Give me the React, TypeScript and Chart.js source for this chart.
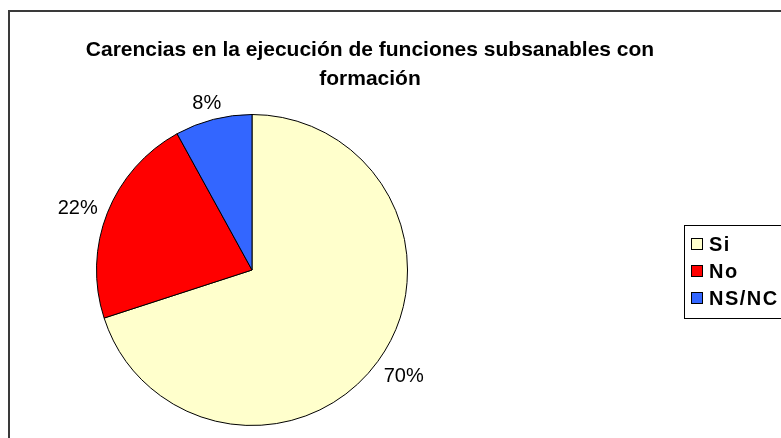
import React, { useEffect, useRef } from "react";
import { Chart, registerables } from "chart.js";

Chart.register(...registerables);

const categories = ["Si", "No", "NS/NC"];
const values = [70, 22, 8];
const colors = ["#FFFFCC", "#FF0000", "#3366FF"];
const titleLines = ["Carencias en la ejecución de funciones subsanables con", "formación"];

const decor = {
  id: "decor",
  afterDraw(chart: any) {
    const ctx = chart.ctx;
    ctx.save();
    // outer frame
    ctx.strokeStyle = "#3a3a3a";
    ctx.lineWidth = 2;
    ctx.strokeRect(9, 11, 900, 600);
    // title
    ctx.fillStyle = "#000";
    ctx.font = "bold 21px 'Liberation Sans', Arial, sans-serif";
    ctx.textAlign = "center";
    ctx.textBaseline = "middle";
    ctx.fillText(titleLines[0], 370, 50);
    ctx.fillText(titleLines[1], 370, 79);
    // labels
    const meta = chart.getDatasetMeta(0);
    const total = values.reduce((a, b) => a + b, 0);
    ctx.font = "20px 'Liberation Sans', Arial, sans-serif";
    meta.data.forEach((arc: any, i: number) => {
      const p = arc.getProps(["x", "y", "startAngle", "endAngle", "outerRadius"], true);
      const mid = (p.startAngle + p.endAngle) / 2;
      const pct = Math.round((values[i] / total) * 100) + "%";
      const w = ctx.measureText(pct).width;
      const h = 16;
      const d = p.outerRadius + 12;
      const cx = p.x + Math.cos(mid) * d + Math.cos(mid) * w / 2;
      const cy = p.y + Math.sin(mid) * d + Math.sin(mid) * h / 2 + 3;
      ctx.fillText(pct, cx, cy);
    });
    // legend
    ctx.lineWidth = 1;
    ctx.strokeStyle = "#000";
    ctx.strokeRect(684.5, 225.5, 200, 93);
    ctx.textAlign = "left";
    ctx.font = "bold 20px 'Liberation Sans', Arial, sans-serif";
    (ctx as any).letterSpacing = "1.5px";
    categories.forEach((c, i) => {
      const y = 244 + i * 27;
      ctx.fillStyle = colors[i];
      ctx.fillRect(692, y - 5, 10, 10);
      ctx.strokeRect(691.5, y - 5.5, 11, 11);
      ctx.fillStyle = "#000";
      ctx.fillText(c, 709, y + 1);
    });
    ctx.restore();
  },
};

export default function App() {
  const ref = useRef<HTMLCanvasElement | null>(null);
  useEffect(() => {
    if (!ref.current) return;
    const chart = new Chart(ref.current, {
      type: "pie",
      data: {
        labels: categories,
        datasets: [
          {
            data: values,
            backgroundColor: colors,
            borderColor: "#000",
            borderWidth: 1,
          },
        ],
      },
      options: {
        responsive: false,
        animation: false,
        layout: { padding: { left: 96, right: 373, top: 114, bottom: 12 } },
        plugins: {
          legend: { display: false },
          title: { display: false },
          tooltip: { enabled: false },
        },
      },
      plugins: [decor],
    });
    return () => chart.destroy();
  }, []);
  return (
    <div style={{ position: "fixed", left: 0, top: 0, width: 781, height: 438, background: "#fff" }}>
      <canvas ref={ref} width={781} height={438} style={{ width: 781, height: 438 }} />
    </div>
  );
}
